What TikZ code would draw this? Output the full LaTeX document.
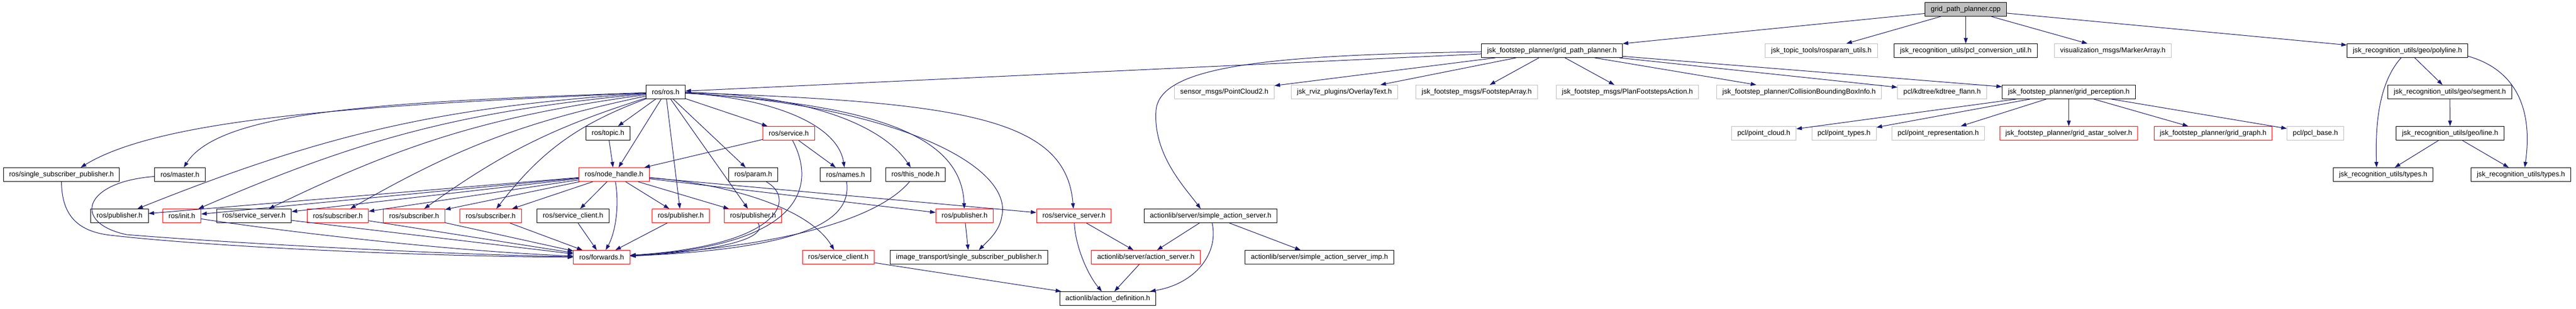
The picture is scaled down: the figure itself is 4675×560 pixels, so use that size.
\documentclass[tikz,border=0pt]{standalone}
\usepackage{fontspec}
\setmainfont{Liberation Sans}
\usepackage{tikz}
\usetikzlibrary{arrows.meta}
\definecolor{dox_edge}{RGB}{25, 25, 112}
\definecolor{dox_red}{RGB}{255, 0, 0}
\definecolor{dox_grey}{RGB}{191, 191, 191}

\begin{document}
\begin{tikzpicture}[x=1pt, y=-1pt,
    filebox/.style={font=\fontsize{12.8}{15}\selectfont, line width=1pt, fill=white,
      minimum height=25pt, inner xsep=10.5pt, inner ysep=0pt},
    docfile/.style={filebox, draw=black},
    redfile/.style={filebox, draw=dox_red},
    extfile/.style={filebox, draw=dox_grey},
    rootfile/.style={filebox, draw=black, fill=dox_grey},
    dep/.style={draw=dox_edge, line width=1pt, -{Triangle[length=10pt, width=7pt]}}]
  \useasboundingbox (0,0) rectangle (4675,560);

  % Rang 0 et 1
  \node[rootfile] (cpp) at (3567.5,17) {grid\_path\_planner.cpp};
  \node[docfile] (gpp) at (2816.5,92) {jsk\_footstep\_planner/grid\_path\_planner.h};
  \node[extfile] (rosparam) at (3305.5,92) {jsk\_topic\_tools/rosparam\_utils.h};
  \node[docfile] (pclconv) at (3567.5,92) {jsk\_recognition\_utils/pcl\_conversion\_util.h};
  \node[extfile] (marker) at (3834.5,92) {visualization\_msgs/MarkerArray.h};
  \node[docfile] (polyline) at (4369,92) {jsk\_recognition\_utils/geo/polyline.h};

  % Rang 2
  \node[docfile] (rosh) at (1208,167) {ros/ros.h};
  \node[extfile] (pc2) at (2222,167) {sensor\_msgs/PointCloud2.h};
  \node[extfile] (overlay) at (2440,167) {jsk\_rviz\_plugins/OverlayText.h};
  \node[extfile] (fsarray) at (2680,167) {jsk\_footstep\_msgs/FootstepArray.h};
  \node[extfile] (planfs) at (2953.5,167) {jsk\_footstep\_msgs/PlanFootstepsAction.h};
  \node[extfile] (collision) at (3265,167) {jsk\_footstep\_planner/CollisionBoundingBoxInfo.h};
  \node[extfile] (kdtree) at (3524.5,167) {pcl/kdtree/kdtree\_flann.h};
  \node[docfile] (gridperc) at (3754.5,167) {jsk\_footstep\_planner/grid\_perception.h};
  \node[docfile] (segment) at (4446,167) {jsk\_recognition\_utils/geo/segment.h};

  % Rang 3
  \node[docfile] (topic) at (1103.5,242) {ros/topic.h};
  \node[redfile] (service) at (1431.5,242) {ros/service.h};
  \node[extfile] (pointcloud) at (3201,242) {pcl/point\_cloud.h};
  \node[extfile] (pointtypes) at (3346.5,242) {pcl/point\_types.h};
  \node[extfile] (pointrep) at (3517.5,242) {pcl/point\_representation.h};
  \node[redfile] (astar) at (3754.5,242) {jsk\_footstep\_planner/grid\_astar\_solver.h};
  \node[redfile] (gridgraph) at (4016.5,242) {jsk\_footstep\_planner/grid\_graph.h};
  \node[extfile] (pclbase) at (4202,242) {pcl/pcl\_base.h};
  \node[docfile] (geoline) at (4446.5,242) {jsk\_recognition\_utils/geo/line.h};

  % Rang 4
  \node[docfile] (singlesub) at (111.5,317) {ros/single\_subscriber\_publisher.h};
  \node[docfile] (master) at (326.5,317) {ros/master.h};
  \node[redfile] (nodehandle) at (1114.5,317) {ros/node\_handle.h};
  \node[docfile] (param) at (1367,317) {ros/param.h};
  \node[docfile] (names) at (1534.5,317) {ros/names.h};
  \node[docfile] (thisnode) at (1661.5,317) {ros/this\_node.h};
  \node[docfile] (typesa) at (4325,317) {jsk\_recognition\_utils/types.h};
  \node[docfile] (typesb) at (4575,317) {jsk\_recognition\_utils/types.h};

  % Rang 5
  \node[docfile] (pubblack) at (217,392) {ros/publisher.h};
  \node[redfile] (init) at (330,392) {ros/init.h};
  \node[docfile] (srvserverblack) at (461,392) {ros/service\_server.h};
  \node[redfile] (subscribera) at (613,392) {ros/subscriber.h};
  \node[redfile] (subscriberb) at (751.5,392) {ros/subscriber.h};
  \node[redfile] (subscriberc) at (890.5,392) {ros/subscriber.h};
  \node[docfile] (srvclientblack) at (1040,392) {ros/service\_client.h};
  \node[redfile] (publishera) at (1235.5,392) {ros/publisher.h};
  \node[redfile] (publisherb) at (1366.5,392) {ros/publisher.h};
  \node[redfile] (publisherc) at (1750.5,392) {ros/publisher.h};
  \node[redfile] (srvserverred) at (1949,392) {ros/service\_server.h};
  \node[docfile] (simpleas) at (2197,392) {actionlib/server/simple\_action\_server.h};

  % Rang 6 et 7
  \node[redfile] (forwards) at (1092,467) {ros/forwards.h};
  \node[redfile] (srvclientred) at (1521.5,467) {ros/service\_client.h};
  \node[docfile] (imgtrans) at (1758.5,467) {image\_transport/single\_subscriber\_publisher.h};
  \node[redfile] (actserver) at (2079.5,467) {actionlib/server/action\_server.h};
  \node[docfile] (simpleasimp) at (2394.5,467) {actionlib/server/simple\_action\_server\_imp.h};
  \node[docfile] (actdef) at (2010.5,542) {actionlib/action\_definition.h};

  % Inclusions du fichier source
  \foreach \t in {gpp,rosparam,pclconv,marker,polyline}
    \draw[dep] (cpp) -- (\t);

  % grid_path_planner.h
  \foreach \t in {rosh,pc2,overlay,fsarray,planfs,collision,kdtree,gridperc}
    \draw[dep] (gpp) -- (\t);
  \draw[dep] (gpp) .. controls (2300,100) and (2105,120) .. (2098,200)
    .. controls (2092,280) and (2150,340) .. ([xshift=-18pt]simpleas.north);
  \foreach \t in {pointcloud,pointtypes,pointrep,astar,gridgraph,pclbase}
    \draw[dep] (gridperc) -- (\t);

  % geo
  \draw[dep] (polyline) -- (segment);
  \draw[dep] (segment) -- (geoline);
  \draw[dep] (geoline) -- (typesa);
  \draw[dep] (geoline) -- (typesb);
  \draw[dep] (polyline) .. controls (4322,145) and (4310,210) .. ([xshift=-12pt]typesa.north);
  \draw[dep] ([yshift=-10pt]polyline.east) .. controls (4560,125) and (4598,190) .. ([xshift=7pt]typesb.north);

  % ros/ros.h
  \foreach \t in {topic,nodehandle,publishera,publisherb,param,service}
    \draw[dep] (rosh) -- (\t);
  \draw[dep] (rosh) .. controls (1400,178) and (1520,225) .. (names);
  \draw[dep] (rosh) .. controls (1460,172) and (1600,225) .. (thisnode);
  \foreach \t in {pubblack,init,srvserverblack,subscribera,subscriberb}
    \draw[dep] (rosh) to[bend right=9] (\t);
  \draw[dep] (rosh) to[bend right=16] (subscriberc);
  \draw[dep] (rosh) .. controls (700,190) and (300,210) .. ([xshift=35pt]singlesub.north);
  \draw[dep] (rosh) .. controls (700,185) and (400,200) .. ([xshift=7pt]master.north);
  \draw[dep] (rosh) .. controls (1600,190) and (1745,250) .. (publisherc);
  \draw[dep] (rosh) .. controls (1620,190) and (1840,300) .. (1818,393)
    .. controls (1814,420) and (1792,438) .. ([xshift=18pt]imgtrans.north);
  \draw[dep] (rosh) .. controls (1750,185) and (1935,215) .. (srvserverred);

  % ros/node_handle.h
  \foreach \t in {pubblack,init,srvserverblack,subscribera,subscriberb,subscriberc,
      srvclientblack,publishera,publisherb,publisherc,srvserverred}
    \draw[dep] (nodehandle) -- (\t);
  \draw[dep] (nodehandle) .. controls (1124,370) and (1118,420) .. (forwards);
  \draw[dep] (nodehandle) .. controls (1330,335) and (1470,380) .. (srvclientred);
  \draw[dep] (topic) -- (nodehandle);
  \draw[dep] (service) -- (nodehandle);
  \draw[dep] (service) -- (names);

  % vers ros/forwards.h
  \foreach \s in {srvserverblack,subscribera,subscriberb,subscriberc,srvclientblack,publishera}
    \draw[dep] (\s) -- (forwards);
  \draw[dep] (init) .. controls (500,418) and (800,455) .. (forwards);
  \draw[dep] (singlesub) .. controls (112,390) and (140,420) .. (200,427)
    .. controls (400,450) and (800,466) .. (forwards);
  \draw[dep] (master) .. controls (150,330) and (130,405) .. (230,426)
    .. controls (400,440) and (800,462) .. (forwards);
  \draw[dep] (service) .. controls (1478,330) and (1470,445) .. (forwards);
  \draw[dep] (param) .. controls (1445,360) and (1420,445) .. (forwards);
  \draw[dep] (names) .. controls (1545,390) and (1490,450) .. (forwards);
  \draw[dep] (thisnode) .. controls (1600,390) and (1450,445) .. (forwards);
  \draw[dep] (publisherb) .. controls (1400,440) and (1250,460) .. (forwards);

  % actionlib
  \draw[dep] (publisherc) -- (imgtrans);
  \draw[dep] (srvclientred) -- (actdef);
  \draw[dep] (srvserverred) -- (actserver);
  \draw[dep] (srvserverred) .. controls (1952,450) and (1975,500) .. (actdef);
  \draw[dep] (simpleas) -- (actserver);
  \draw[dep] (simpleas) -- (simpleasimp);
  \draw[dep] (simpleas) .. controls (2212,460) and (2170,515) .. (actdef);
  \draw[dep] (actserver) -- (actdef);
\end{tikzpicture}
\end{document}
